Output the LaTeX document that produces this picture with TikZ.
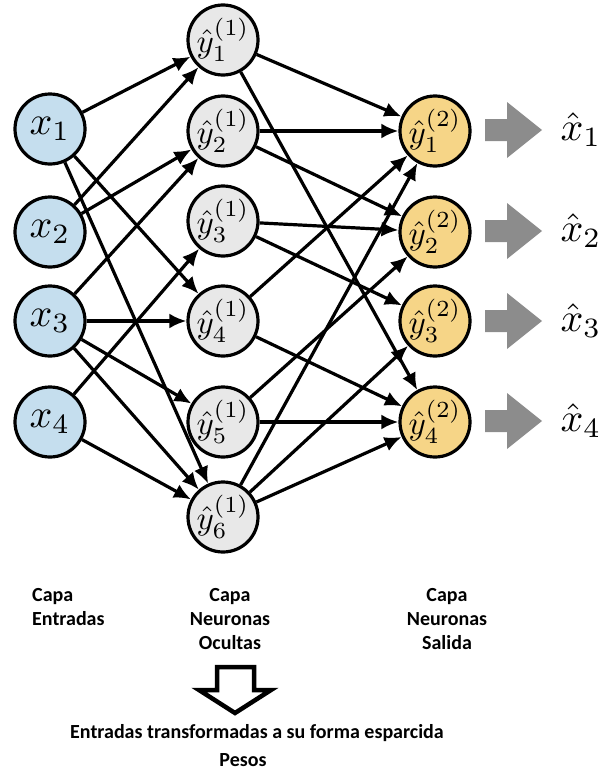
\documentclass[tikz,border=0pt]{standalone}
\usepackage{amsmath}
\usepackage{graphicx}
\usepackage{fontspec}
\newfontfamily\capafont{Carlito}
\usetikzlibrary{arrows.meta}
\definecolor{inblue}{RGB}{197,222,238}
\definecolor{hidgray}{RGB}{232,232,232}
\definecolor{outyellow}{RGB}{246,213,135}
\definecolor{arrowgray}{RGB}{140,140,140}
\newcommand{\inlab}[1]{\scalebox{4}{$#1$}}
\newcommand{\hidlab}[1]{\scalebox{3.3}{$#1$}}

\begin{document}
\begin{tikzpicture}[x=1pt,y=-1pt,
    neuron/.style={circle,draw,line width=3.2pt,minimum size=70pt,inner sep=0pt},
    innode/.style={neuron,fill=inblue},
    hidnode/.style={neuron,fill=hidgray},
    outnode/.style={neuron,fill=outyellow},
    conn/.style={line width=3.2pt,-{Latex[length=17pt,width=15pt]}},
    capa/.style={font=\capafont\bfseries\fontsize{20}{24}\selectfont,inner sep=0pt,align=center}]
        \useasboundingbox (0,0) rectangle (605,771);
        % Input layer
        \node[innode] (x1) at (50,129) {\inlab{x_1}};
        \node[innode] (x2) at (50,232) {\inlab{x_2}};
        \node[innode] (x3) at (50,321) {\inlab{x_3}};
        \node[innode] (x4) at (50,422) {\inlab{x_4}};
        % Hidden layer
        \node[hidnode] (h1) at (223,40) {\hidlab{\hat{y}^{(1)}_1}};
        \node[hidnode] (h2) at (223,131) {\hidlab{\hat{y}^{(1)}_2}};
        \node[hidnode] (h3) at (223,221) {\hidlab{\hat{y}^{(1)}_3}};
        \node[hidnode] (h4) at (223,321) {\hidlab{\hat{y}^{(1)}_4}};
        \node[hidnode] (h5) at (223,422) {\hidlab{\hat{y}^{(1)}_5}};
        \node[hidnode] (h6) at (223,517) {\hidlab{\hat{y}^{(1)}_6}};
        % Output layer
        \node[outnode] (o1) at (435,131) {\hidlab{\hat{y}^{(2)}_1}};
        \node[outnode] (o2) at (435,232) {\hidlab{\hat{y}^{(2)}_2}};
        \node[outnode] (o3) at (435,321) {\hidlab{\hat{y}^{(2)}_3}};
        \node[outnode] (o4) at (435,422) {\hidlab{\hat{y}^{(2)}_4}};
        % Weights
        \foreach \a/\b in {1/1,1/4,1/6,2/1,2/2,3/2,3/4,3/5,3/6,4/3,4/6}
            \draw[conn] (x\a) -- (h\b);
        \foreach \a/\b in {1/1,1/4,2/1,2/2,3/2,3/3,4/1,4/4,5/2,5/4,6/1,6/3,6/4}
            \draw[conn] (h\a) -- (o\b);
        % Reconstructed inputs
        \foreach \i/\y in {1/130,2/231,3/321,4/421}{
            \fill[arrowgray] (485,\y-11) -- (507,\y-11) -- (507,\y-28) -- (542,\y)
                -- (507,\y+28) -- (507,\y+11) -- (485,\y+11) -- cycle;
            \node (xr\i) at (581,\y) {\inlab{\hat{x}_\i}};
        }
        % Layer names
        \node[capa,anchor=north west,align=left] (capain) at (32,588) {Capa\\Entradas};
        \node[capa,anchor=north] (capahid) at (230,588) {Capa\\Neuronas\\Ocultas};
        \node[capa,anchor=north] (capaout) at (447,588) {Capa\\Neuronas\\Salida};
        % Hollow arrow and caption
        \draw[line width=4.5pt,miter limit=10] (217,667) -- (254,667) -- (254,690) -- (271,690)
            -- (235,713) -- (199,690) -- (217,690) -- cycle;
        \node[capa,anchor=base] (sparse) at (257,738) {Entradas transformadas a su forma esparcida};
        \node[capa,anchor=base] (pesos) at (243,766) {Pesos};
    \end{tikzpicture}
\end{document}
